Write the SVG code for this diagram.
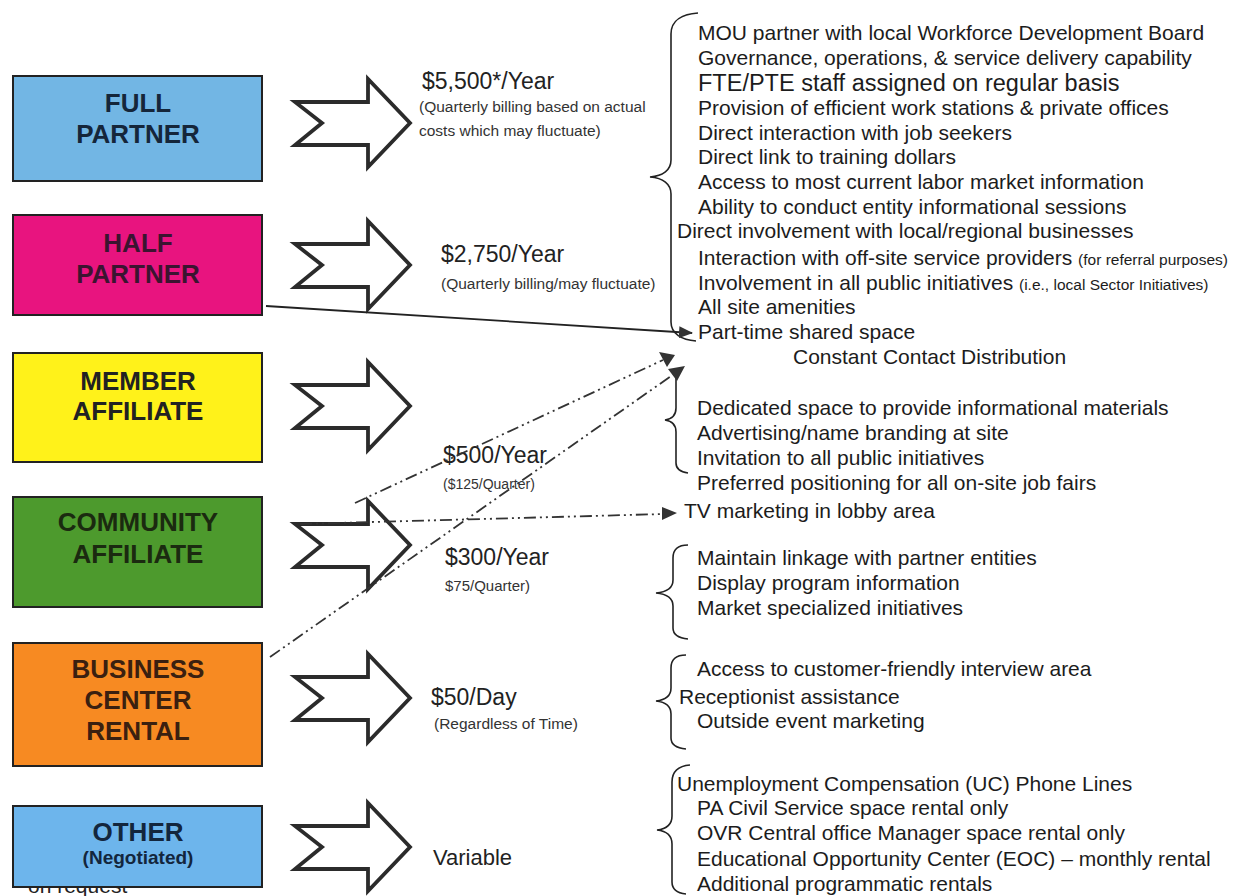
<svg xmlns="http://www.w3.org/2000/svg" width="1238" height="896" viewBox="0 0 1238 896">
<defs>
<style>
text{font-family:"Liberation Sans",Arial,Helvetica,sans-serif;}
.box{stroke:#222;stroke-width:2;}
.lbl{font-weight:bold;font-size:26px;text-anchor:middle;}
.arrow{fill:#fff;stroke:#2b2b2b;stroke-width:3.8;stroke-linejoin:miter;}
.price{font-size:23px;fill:#222;}
.sub{font-size:15.5px;fill:#333;}
.item{font-size:21px;fill:#1c1c1c;}
.small{font-size:15.5px;}
.brace{fill:none;stroke:#222;stroke-width:1.6;}
.dd{fill:none;stroke:#333;stroke-width:1.8;stroke-dasharray:12 4 2 4 2 4;}
.head{fill:#333;}
</style>
<marker id="ah" markerWidth="14" markerHeight="12" refX="13" refY="6" orient="auto" markerUnits="userSpaceOnUse">
<path d="M0,0 L14,6 L0,12 Z" fill="#333"/>
</marker>
<path id="arr" d="M0,-21 L73,-21 L73,-44 L115,0 L73,44 L73,22 L0,22 L27,0 Z"/>
</defs>
<rect width="1238" height="896" fill="#fff"/>

<text x="28" y="893" style="font-size:21px;fill:#222">on request</text>

<g id="full-partner">
<rect class="box" x="13" y="76" width="249" height="105" fill="#72b6e4"/>
<text class="lbl" x="138" y="112" fill="#15263a">FULL</text>
<text class="lbl" x="138" y="143" fill="#15263a">PARTNER</text>
<use href="#arr" class="arrow" x="295" y="123"/>
<text class="price" x="422" y="89">$5,500*/Year</text>
<text class="sub" x="419" y="112">(Quarterly billing based on actual</text>
<text class="sub" x="419" y="136">costs which may fluctuate)</text>
</g>

<g id="half-partner">
<rect class="box" x="13" y="215" width="249" height="100" fill="#e8147f"/>
<text class="lbl" x="138" y="252" fill="#3b1430">HALF</text>
<text class="lbl" x="138" y="283" fill="#3b1430">PARTNER</text>
<use href="#arr" class="arrow" x="295" y="265"/>
<text class="price" x="441" y="262">$2,750/Year</text>
<text class="sub" x="441" y="289">(Quarterly billing/may fluctuate)</text>
</g>

<g id="member-affiliate">
<rect class="box" x="13" y="353" width="249" height="109" fill="#fff21a"/>
<text class="lbl" x="138" y="390" fill="#222">MEMBER</text>
<text class="lbl" x="138" y="420" fill="#222">AFFILIATE</text>
<use href="#arr" class="arrow" x="295" y="406"/>
<text class="price" x="443" y="463">$500/Year</text>
<text class="sub" x="443" y="489" style="font-size:14px">($125/Quarter)</text>
</g>

<g id="community-affiliate">
<rect class="box" x="13" y="497" width="249" height="110" fill="#4d9a2d"/>
<text class="lbl" x="138" y="531" fill="#1b2a10">COMMUNITY</text>
<text class="lbl" x="138" y="563" fill="#1b2a10">AFFILIATE</text>
<use href="#arr" class="arrow" x="295" y="545"/>
<text class="price" x="445" y="565">$300/Year</text>
<text class="sub" x="445" y="591" style="font-size:15px">$75/Quarter)</text>
</g>

<g id="business-center-rental">
<rect class="box" x="13" y="643" width="249" height="123" fill="#f78a22"/>
<text class="lbl" x="138" y="678" fill="#3a2010">BUSINESS</text>
<text class="lbl" x="138" y="709" fill="#3a2010">CENTER</text>
<text class="lbl" x="138" y="740" fill="#3a2010">RENTAL</text>
<use href="#arr" class="arrow" x="295" y="698"/>
<text class="price" x="431" y="705">$50/Day</text>
<text class="sub" x="434" y="729">(Regardless of Time)</text>
</g>

<g id="other">
<rect class="box" x="13" y="806" width="249" height="81" fill="#6db5ec"/>
<text class="lbl" x="138" y="841" fill="#13263d">OTHER</text>
<text class="lbl" x="138" y="864" fill="#13263d" style="font-size:19px">(Negotiated)</text>
<use href="#arr" class="arrow" x="295" y="847"/>
<text class="price" x="433" y="865" style="font-size:22px">Variable</text>
</g>

<g id="partner-benefits">
<path class="brace" d="M698,13 C683,14 671,20 671,34 L671,160 C671,170 663,176 650,177 C663,178 671,184 671,194 L671,322 C671,334 682,340 696,341"/>
<text class="item" x="698" y="40">MOU partner with local Workforce Development Board</text>
<text class="item" x="698" y="65">Governance, operations, &amp; service delivery capability</text>
<text class="item" x="698" y="91" style="font-size:23.5px">FTE/PTE staff assigned on regular basis</text>
<text class="item" x="698" y="115">Provision of efficient work stations &amp; private offices</text>
<text class="item" x="698" y="140">Direct interaction with job seekers</text>
<text class="item" x="698" y="164">Direct link to training dollars</text>
<text class="item" x="698" y="189">Access to most current labor market information</text>
<text class="item" x="698" y="214">Ability to conduct entity informational sessions</text>
<text class="item" x="677" y="238">Direct involvement with local/regional businesses</text>
<text class="item" x="698" y="265">Interaction with off-site service providers <tspan class="small">(for referral purposes)</tspan></text>
<text class="item" x="698" y="290">Involvement in all public initiatives <tspan class="small">(i.e., local Sector Initiatives)</tspan></text>
<text class="item" x="698" y="314">All site amenities</text>
<text class="item" x="698" y="339">Part-time shared space</text>
<text class="item" x="793" y="364">Constant Contact Distribution</text>
</g>

<g id="member-benefits">
<path class="brace" d="M676,374 L676,408 C676,415 672,419 665,420 C672,421 676,425 676,432 L676,463 C676,469 680,472 688,473"/>
<text class="item" x="697" y="415">Dedicated space to provide informational materials</text>
<text class="item" x="697" y="440">Advertising/name branding at site</text>
<text class="item" x="697" y="465">Invitation to all public initiatives</text>
<text class="item" x="697" y="490">Preferred positioning for all on-site job fairs</text>
<text class="item" x="684" y="518">TV marketing in lobby area</text>
</g>

<g id="community-benefits">
<path class="brace" d="M688,545 C678,545 673,550 673,558 L673,580 C673,588 667,592 656,593 C667,594 673,598 673,606 L673,628 C673,635 678,638 688,639"/>
<text class="item" x="697" y="565">Maintain linkage with partner entities</text>
<text class="item" x="697" y="590">Display program information</text>
<text class="item" x="697" y="615">Market specialized initiatives</text>
</g>

<g id="business-benefits">
<path class="brace" d="M686,655 C676,655 671,660 671,668 L671,688 C671,696 665,700 656,701 C665,702 671,706 671,714 L671,738 C671,745 676,748 686,749"/>
<text class="item" x="697" y="676">Access to customer-friendly interview area</text>
<text class="item" x="679" y="704">Receptionist assistance</text>
<text class="item" x="697" y="728">Outside event marketing</text>
</g>

<g id="other-benefits">
<path class="brace" d="M690,765 C678,766 672,772 672,782 L672,816 C672,825 666,829 657,830 C666,831 672,835 672,844 L672,882 C672,889 677,893 686,894"/>
<text class="item" x="677" y="791">Unemployment Compensation (UC) Phone Lines</text>
<text class="item" x="697" y="815">PA Civil Service space rental only</text>
<text class="item" x="697" y="840">OVR Central office Manager space rental only</text>
<text class="item" x="697" y="866">Educational Opportunity Center (EOC) – monthly rental</text>
<text class="item" x="697" y="891">Additional programmatic rentals</text>
</g>

<g id="connectors">
<line x1="266" y1="306" x2="692" y2="333" stroke="#222" stroke-width="1.8" marker-end="url(#ah)"/>
<line class="dd" x1="355" y1="503" x2="663" y2="360"/>
<line class="dd" x1="270" y1="657" x2="674" y2="374"/>
<line class="dd" x1="300" y1="524" x2="664" y2="514"/>
<path class="head" d="M659,352 L675,355 L667,367 Z"/>
<path class="head" d="M668,369 L685,366 L677,381 Z"/>
<path class="head" d="M662,507 L677,513 L662,520 Z"/>
</g>
</svg>
